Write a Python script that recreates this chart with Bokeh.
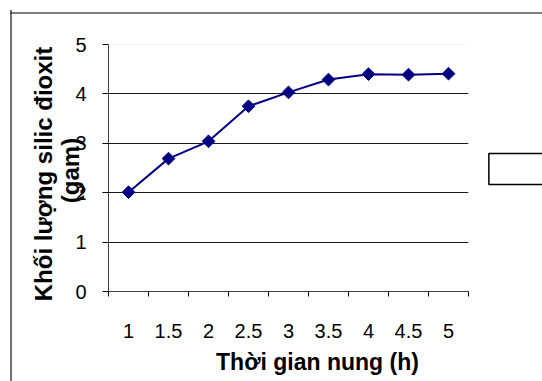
import math
from bokeh.plotting import figure
from bokeh.models import FixedTicker, Range1d, Label, Span
from bokeh.embed import file_html
from bokeh.resources import INLINE

# ---- data ----
hours = [1, 1.5, 2, 2.5, 3, 3.5, 4, 4.5, 5]
mass = [2.01, 2.69, 3.04, 3.75, 4.03, 4.29, 4.40, 4.39, 4.41]
x_tick_labels = ["1", "1.5", "2", "2.5", "3", "3.5", "4", "4.5", "5"]
y_ticks = [0, 1, 2, 3, 4, 5]
x_title = "Thời gian nung (h)"
y_title_lines = ["Khối lượng silic đioxit", "(gam)"]

# ---- layout (pixels) ----
W, H = 542, 381
FL, FR, FT, FB = 108, 468, 44, 291
FONT = "Liberation Sans"

x0, x1 = hours[0] - 0.25, hours[-1] + 0.25
y0, y1 = y_ticks[0], y_ticks[-1]


def dx(px):
    return x0 + (px - FL) * (x1 - x0) / (FR - FL)


def dy(py):
    return y0 + (FB - py) * (y1 - y0) / (FB - FT)


p = figure(width=W, height=H, x_range=Range1d(x0, x1), y_range=Range1d(y0, y1),
           output_backend="svg", toolbar_location=None,
           min_border_left=FL, min_border_right=W - FR,
           min_border_top=FT, min_border_bottom=H - FB)
p.outline_line_color = None
p.background_fill_color = "white"
p.border_fill_color = "white"

# x axis: labels at category centers, tick marks between
xa = p.xaxis[0]
step = hours[1] - hours[0]
xa.ticker = FixedTicker(ticks=hours,
                        minor_ticks=[h - step / 2 for h in hours] + [hours[-1] + step / 2])
xa.major_label_overrides = {h: lab for h, lab in zip(hours, x_tick_labels)}
xa.major_tick_out = 0
xa.major_tick_in = 0
xa.minor_tick_out = 5
xa.minor_tick_in = 0
xa.minor_tick_line_color = "#000000"
xa.axis_line_color = "#404040"
xa.major_label_standoff = 27
xa.major_label_text_font = FONT
xa.major_label_text_font_size = "20px"
xa.major_label_text_color = "#000000"

ya = p.yaxis[0]
ya.ticker = FixedTicker(ticks=y_ticks)
ya.major_tick_out = 6
ya.major_tick_in = 0
ya.minor_tick_out = 0
ya.minor_tick_in = 0
ya.axis_line_color = "#404040"
ya.major_tick_line_color = "#000000"
ya.major_label_standoff = 16
ya.major_label_text_font = FONT
ya.major_label_text_font_size = "20px"
ya.major_label_text_color = "#000000"

p.xgrid.visible = False
p.ygrid.ticker = FixedTicker(ticks=y_ticks[1:-1])
p.ygrid.grid_line_color = "#1a1a1a"
p.ygrid.grid_line_width = 1

p.add_layout(Span(location=y1, dimension="width", line_color="#ececec", line_width=1))

# series
p.line(hours, mass, line_color="#000080", line_width=2)
p.scatter(hours, mass, marker="square", angle=math.pi / 4, size=9,
          fill_color="#000080", line_color="#000080")

# chart area border: left and top edges (the rest runs off the page)
# padding is (horizontal, vertical)
p.add_layout(Label(x=dx(10.5), y=dy(12 + 200), text=" ", text_font_size="4px",
                   text_align="center", text_baseline="middle", padding=(0, 200),
                   background_fill_color="#000000", border_line_color=None), "left")
p.add_layout(Label(x=dx(10 + 280), y=dy(12.5), text=" ", text_font_size="1px",
                   text_align="center", text_baseline="middle", padding=(280, 0),
                   background_fill_color="#000000", border_line_color=None), "above")

# empty legend box
ll, lt, lw, lh = 488.5, 153.5, 56, 30
p.add_layout(Label(x=dx(ll + lw / 2), y=dy(lt + lh / 2), text=" ",
                   text_font_size="1px", text_align="center", text_baseline="middle",
                   padding=(int(lw / 2), int(lh / 2)),
                   background_fill_color="white", border_line_color="#000000",
                   border_line_width=1.5), "right")

# titles (placed in side panels so they are not clipped to the frame)
p.add_layout(Label(x=dx(317), y=dy(361.5), text=x_title, text_font=FONT,
                   text_font_size="23px", text_font_style="bold",
                   text_align="center", text_baseline="alphabetic", text_color="#000000"),
             "below")
p.add_layout(Label(x=dx(43), y=dy(173.5), text=y_title_lines[0], angle=math.pi / 2,
                   text_font=FONT, text_font_size="24px", text_font_style="bold",
                   text_align="center", text_baseline="middle", text_color="#000000"),
             "left")
p.add_layout(Label(x=dx(70), y=dy(170), text=y_title_lines[1], angle=math.pi / 2,
                   text_font=FONT, text_font_size="24px", text_font_style="bold",
                   text_align="center", text_baseline="middle", text_color="#000000"),
             "left")

open("out.html", "w").write(file_html(p, INLINE))
